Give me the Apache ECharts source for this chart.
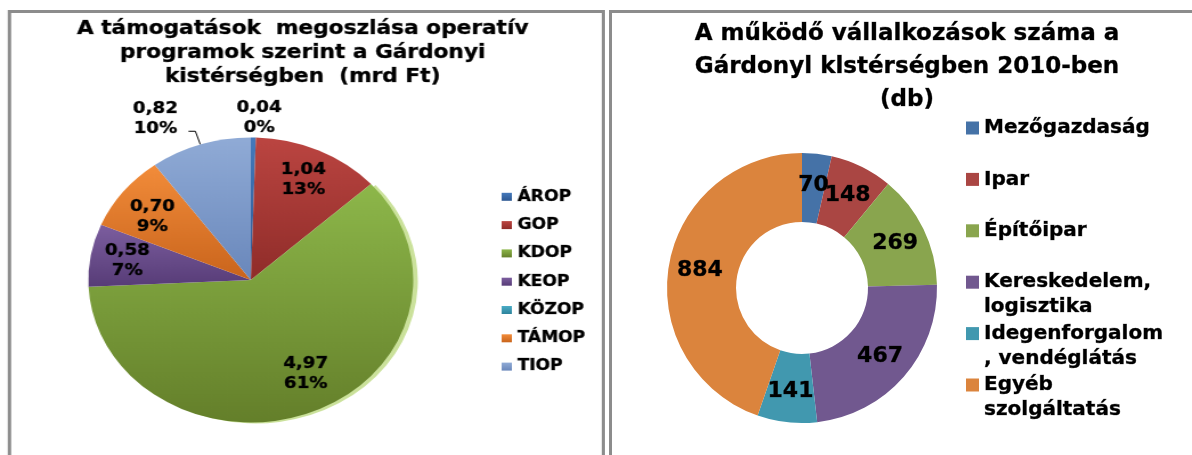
<!DOCTYPE html>
<html><head><meta charset="utf-8">
<script src="https://cdn.jsdelivr.net/npm/echarts@6/dist/echarts.min.js"></script>
<style>
html,body{margin:0;padding:0;background:#fff;overflow:hidden;width:1192px;height:455px;}
#left{position:absolute;left:0;top:0;width:531px;height:455px;transform:scaleX(1.14);transform-origin:0 0;}
#right{position:absolute;left:606px;top:0;width:586px;height:455px;}
</style></head><body>
<div id="left"></div><div id="right"></div>
<script>
// ---- data ----
const programs = ['ÁROP', 'GOP', 'KDOP', 'KEOP', 'KÖZOP', 'TÁMOP', 'TIOP'];
const support = [0.04, 1.04, 4.97, 0.58, 0, 0.70, 0.82];
const sectors = ['Mezőgazdaság', 'Ipar', 'Építőipar', 'Kereskedelem, logisztika', 'Idegenforgalom, vendéglátás', 'Egyéb szolgáltatás'];
const sectorLegendText = ['Mezőgazdaság', 'Ipar', 'Építőipar', 'Kereskedelem,\nlogisztika', 'Idegenforgalom\n, vendéglátás', 'Egyéb\nszolgáltatás'];
const firms = [70, 148, 269, 467, 141, 884];
const titleLeft = 'A támogatások  megoszlása operatív\nprogramok szerint a Gárdonyi\nkistérségben  (mrd Ft)';
const titleRight = 'A működő vállalkozások száma a\nGárdonyl klstérségben 2010-ben\n(db)';

// ---- styles ----
const FONT = '"DejaVu Sans", Verdana, sans-serif';
const leftTop = ['#4579bb', '#bb4541', '#8db74a', '#7c5e9f', '#4bacc6', '#f28c3a', '#90abd6'];
const leftBottom = ['#2c5892', '#8f2c29', '#647f2a', '#573c77', '#2d849c', '#c9641c', '#6987bb'];
const rightColors = ['#4572a7', '#aa4643', '#89a54e', '#71588f', '#4198af', '#db843d'];
const outsideLabelled = ['ÁROP', 'TIOP'];
const labelNudge = { 'ÁROP': { dx: -24, dy: -10 }, 'TIOP': { dy: -12 } };
const insideNudge = { 'KDOP': { dx: 6, dy: -8 }, 'TÁMOP': { dy: 5 } };
const lineStyleOutside = { 'ÁROP': { show: false, length: 10, length2: 0 }, 'TIOP': { show: true, length: 14, length2: 6 } };
const borderColor = '#8c8c8c';

function grad(i) {
  return { type: 'linear', x: 0, y: 0, x2: 0, y2: 1,
    colorStops: [{ offset: 0, color: leftTop[i] }, { offset: 1, color: leftBottom[i] }] };
}
const fmtNum = v => v.toFixed(2).replace('.', ',');
const boldText = (size, lh) => ({ fontFamily: FONT, fontWeight: 'bold', fontSize: size, lineHeight: lh, color: '#000',
  textBorderColor: 'rgba(0,0,0,0.55)', textBorderWidth: 0.6 });

// ---- left chart ----
const leftChart = echarts.init(document.getElementById('left'), null, { renderer: 'canvas' });
leftChart.setOption({
  animation: false,
  title: { text: titleLeft, left: 'center', top: 17, padding: 0, textStyle: boldText(19, 24) },
  legend: {
    orient: 'vertical', left: 440, top: 189, padding: 0,
    itemWidth: 9, itemHeight: 8, itemGap: 12.7, icon: 'rect',
    itemStyle: { borderWidth: 0 },
    textStyle: boldText(15, 15),
    data: programs
  },
  graphic: [{
    type: 'polyline', silent: true,
    shape: { points: [[8.3, 470], [8.3, 11.5], [529.4, 11.5], [529.4, 470]] },
    style: { stroke: borderColor, lineWidth: 3, fill: 'none' }
  }],
  series: [
    {
      type: 'pie', center: [220, 280], radius: 142.5, startAngle: 90,
      avoidLabelOverlap: false, percentPrecision: 0,
      itemStyle: { borderWidth: 0 },
      emphasis: { disabled: true },
      label: {
        show: false, position: 'outside',
        formatter: p => '{a|' + fmtNum(p.value) + '}\n{a|' + p.percent + '%}',
        rich: { a: Object.assign({ width: 48, align: 'center' }, boldText(16, 20)) }
      },
      labelLine: { show: false, lineStyle: { color: '#000', width: 1 } },
      labelLayout: p => Object.assign({ hideOverlap: false }, labelNudge[programs[p.dataIndex]] || {}),
      data: programs.map((n, i) => {
        const item = { name: n, value: support[i], itemStyle: { color: grad(i) } };
        if (n === 'KDOP') {
          Object.assign(item.itemStyle, { shadowColor: 'rgba(200,224,150,0.95)', shadowOffsetX: 4, shadowOffsetY: 1, shadowBlur: 0 });
        }
        if (outsideLabelled.includes(n)) {
          item.label = { show: true };
          item.labelLine = lineStyleOutside[n];
        }
        return item;
      })
    },
    {
      type: 'pie', center: [220, 280], radius: 214, startAngle: 90, silent: true,
      avoidLabelOverlap: false, percentPrecision: 0,
      itemStyle: { color: 'rgba(0,0,0,0)', borderWidth: 0 },
      emphasis: { disabled: true },
      labelLayout: p => Object.assign({ hideOverlap: false }, insideNudge[programs[p.dataIndex]] || {}),
      label: Object.assign({
        show: true, position: 'inside',
        formatter: p => (p.value === 0 || outsideLabelled.includes(p.name)) ? '' : fmtNum(p.value) + '\n' + p.percent + '%'
      }, boldText(16, 20)),
      labelLine: { show: false },
      data: programs.map((n, i) => ({ name: n, value: support[i] }))
    }
  ]
});

// ---- right chart ----
const rightChart = echarts.init(document.getElementById('right'), null, { renderer: 'canvas' });
rightChart.setOption({
  animation: false,
  title: { text: titleRight, left: 301, textAlign: 'center', top: 18, padding: 0, textStyle: boldText(23, 33) },
  legend: {
    orient: 'vertical', left: 360, top: 115.5, padding: 0,
    itemWidth: 13, itemHeight: 50, itemGap: 1.4,
    icon: 'path://M0,0L0,0M0,6H13V19H0ZM13,50L13,50',
    itemStyle: { borderWidth: 0 },
    textStyle: boldText(20, 25),
    formatter: name => {
      const t = sectorLegendText[sectors.indexOf(name)];
      return t.indexOf('\n') < 0 ? t + '\n ' : t;
    },
    data: sectors
  },
  graphic: [{
    type: 'polyline', silent: true,
    shape: { points: [[4.5, 470], [4.5, 11.5], [600, 11.5]] },
    style: { stroke: borderColor, lineWidth: 3, fill: 'none' }
  }],
  series: [{
    type: 'pie', center: [196, 288], radius: [66, 135], startAngle: 90,
    avoidLabelOverlap: false,
    itemStyle: { borderWidth: 0 },
    emphasis: { disabled: true },
    labelLayout: { hideOverlap: false },
    label: Object.assign({ show: true, position: 'inside', formatter: '{c}' }, boldText(22, 24)),
    labelLine: { show: false },
    data: sectors.map((n, i) => ({ name: n, value: firms[i], itemStyle: { color: rightColors[i] } }))
  }]
});
</script>
</body></html>
